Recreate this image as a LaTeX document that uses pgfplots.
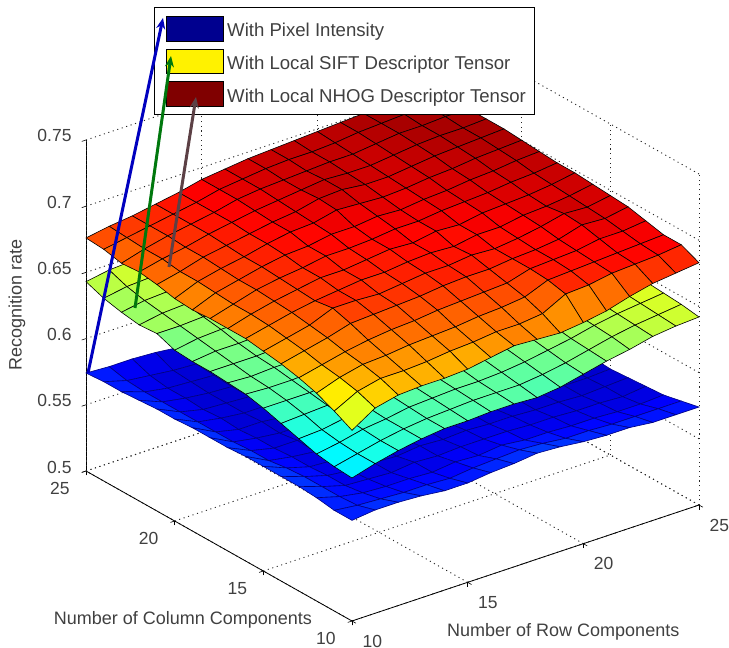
\documentclass[border=0pt]{standalone}
\usepackage{fontspec}
\setmainfont{Liberation Sans}
\usepackage{pgfplots}
\pgfplotsset{compat=1.18}
\usetikzlibrary{arrows.meta}
\begin{document}
\begin{tikzpicture}
\begin{axis}[
  name=ax,
  x={(23.133pt,7.733pt)}, y={(-17.733pt,10pt)}, z={(0pt,1324pt)},
  xmin=10,xmax=25,ymin=10,ymax=25,zmin=0.5,zmax=0.75,
  axis lines*=left,
  clip=false,
  xtick={10,15,20,25}, ytick={10,15,20,25},
  ztick={0.5,0.55,0.6,0.65,0.7,0.75},
  zticklabels={0.5,0.55,0.6,0.65,0.7,0.75},
  grid=major, grid style={black!85,line width=0.9pt,dash pattern=on 1.1pt off 3.6pt},
  tickwidth=4.5pt, tick align=outside,
  tick style={black,line width=0.6pt},
  axis line style={black,line width=0.8pt,-},
  /pgf/number format/assume math mode=true,
  tick label style={font=\fontsize{17.5}{19}\selectfont,text=black!75},
  xticklabel style={xshift=9.5pt,yshift=-6pt},
  yticklabel style={xshift=-13pt,yshift=-4pt},
  zticklabel style={xshift=-7pt,yshift=0pt},
  xlabel={Number of Row Components},
  ylabel={Number of Column Components},
  zlabel={Recognition rate},
  xlabel style={at={(axis cs:15.3,5,0.5)},anchor=center,yshift=-2pt,font=\fontsize{18}{20}\selectfont,text=black!75},
  ylabel style={at={(axis cs:5.6,13.8,0.5)},anchor=center,yshift=-3pt,font=\fontsize{18}{20}\selectfont,text=black!75},
  zlabel style={at={(axis cs:7.02,25,0.643)},anchor=center,rotate=0,font=\fontsize{18}{20}\selectfont,text=black!75},
  colormap/jet, point meta min=0.552, point meta max=0.706,
]
\addplot3[surf, shader=flat corner, draw={rgb,1:red,0;green,0;blue,0.5}, line width=0.6pt, mesh/rows=16, mesh/cols=16] coordinates {
(10,10,0.576)(11,10,0.578)(12,10,0.578)(13,10,0.577)(14,10,0.575)(15,10,0.575)(16,10,0.577)(17,10,0.578)(18,10,0.580)(19,10,0.579)(20,10,0.577)(21,10,0.576)(22,10,0.576)(23,10,0.574)(24,10,0.574)(25,10,0.574)
(10,11,0.576)(11,11,0.574)(12,11,0.573)(13,11,0.572)(14,11,0.572)(15,11,0.571)(16,11,0.573)(17,11,0.574)(18,11,0.575)(19,11,0.574)(20,11,0.572)(21,11,0.572)(22,11,0.571)(23,11,0.571)(24,11,0.571)(25,11,0.571)
(10,12,0.578)(11,12,0.573)(12,12,0.570)(13,12,0.569)(14,12,0.569)(15,12,0.568)(16,12,0.570)(17,12,0.569)(18,12,0.571)(19,12,0.569)(20,12,0.569)(21,12,0.568)(22,12,0.568)(23,12,0.567)(24,12,0.567)(25,12,0.568)
(10,13,0.579)(11,13,0.573)(12,13,0.568)(13,13,0.567)(14,13,0.566)(15,13,0.568)(16,13,0.567)(17,13,0.568)(18,13,0.568)(19,13,0.568)(20,13,0.567)(21,13,0.567)(22,13,0.566)(23,13,0.566)(24,13,0.565)(25,13,0.567)
(10,14,0.579)(11,14,0.573)(12,14,0.568)(13,14,0.566)(14,14,0.566)(15,14,0.565)(16,14,0.567)(17,14,0.566)(18,14,0.567)(19,14,0.566)(20,14,0.566)(21,14,0.565)(22,14,0.565)(23,14,0.564)(24,14,0.565)(25,14,0.566)
(10,15,0.579)(11,15,0.572)(12,15,0.567)(13,15,0.566)(14,15,0.564)(15,15,0.565)(16,15,0.565)(17,15,0.566)(18,15,0.565)(19,15,0.566)(20,15,0.564)(21,15,0.565)(22,15,0.564)(23,15,0.564)(24,15,0.564)(25,15,0.565)
(10,16,0.579)(11,16,0.570)(12,16,0.567)(13,16,0.565)(14,16,0.565)(15,16,0.564)(16,16,0.565)(17,16,0.564)(18,16,0.565)(19,16,0.564)(20,16,0.565)(21,16,0.564)(22,16,0.564)(23,16,0.563)(24,16,0.564)(25,16,0.566)
(10,17,0.578)(11,17,0.570)(12,17,0.566)(13,17,0.566)(14,17,0.564)(15,17,0.564)(16,17,0.563)(17,17,0.564)(18,17,0.563)(19,17,0.564)(20,17,0.563)(21,17,0.564)(22,17,0.563)(23,17,0.564)(24,17,0.564)(25,17,0.566)
(10,18,0.578)(11,18,0.569)(12,18,0.566)(13,18,0.564)(14,18,0.564)(15,18,0.563)(16,18,0.564)(17,18,0.563)(18,18,0.564)(19,18,0.563)(20,18,0.564)(21,18,0.563)(22,18,0.563)(23,18,0.563)(24,18,0.564)(25,18,0.566)
(10,19,0.578)(11,19,0.569)(12,19,0.565)(13,19,0.565)(14,19,0.563)(15,19,0.564)(16,19,0.563)(17,19,0.563)(18,19,0.563)(19,19,0.563)(20,19,0.563)(21,19,0.563)(22,19,0.563)(23,19,0.563)(24,19,0.564)(25,19,0.566)
(10,20,0.577)(11,20,0.569)(12,20,0.566)(13,20,0.564)(14,20,0.564)(15,20,0.563)(16,20,0.563)(17,20,0.563)(18,20,0.563)(19,20,0.563)(20,20,0.563)(21,20,0.563)(22,20,0.563)(23,20,0.563)(24,20,0.564)(25,20,0.566)
(10,21,0.577)(11,21,0.569)(12,21,0.565)(13,21,0.564)(14,21,0.563)(15,21,0.563)(16,21,0.563)(17,21,0.563)(18,21,0.563)(19,21,0.563)(20,21,0.563)(21,21,0.563)(22,21,0.563)(23,21,0.563)(24,21,0.564)(25,21,0.566)
(10,22,0.576)(11,22,0.569)(12,22,0.566)(13,22,0.564)(14,22,0.563)(15,22,0.563)(16,22,0.563)(17,22,0.563)(18,22,0.563)(19,22,0.563)(20,22,0.563)(21,22,0.563)(22,22,0.563)(23,22,0.563)(24,22,0.564)(25,22,0.566)
(10,23,0.575)(11,23,0.569)(12,23,0.566)(13,23,0.565)(14,23,0.564)(15,23,0.563)(16,23,0.563)(17,23,0.563)(18,23,0.563)(19,23,0.563)(20,23,0.563)(21,23,0.563)(22,23,0.563)(23,23,0.563)(24,23,0.564)(25,23,0.566)
(10,24,0.575)(11,24,0.570)(12,24,0.568)(13,24,0.566)(14,24,0.565)(15,24,0.564)(16,24,0.564)(17,24,0.564)(18,24,0.563)(19,24,0.563)(20,24,0.563)(21,24,0.563)(22,24,0.563)(23,24,0.563)(24,24,0.564)(25,24,0.566)
(10,25,0.574)(11,25,0.573)(12,25,0.573)(13,25,0.572)(14,25,0.570)(15,25,0.569)(16,25,0.568)(17,25,0.567)(18,25,0.566)(19,25,0.566)(20,25,0.566)(21,25,0.565)(22,25,0.565)(23,25,0.566)(24,25,0.566)(25,25,0.566)
};
\addplot3[surf, shader=flat corner, draw=black, line width=0.6pt, mesh/rows=16, mesh/cols=16] coordinates {
(10,10,0.608)(11,10,0.613)(12,10,0.617)(13,10,0.620)(14,10,0.622)(15,10,0.622)(16,10,0.623)(17,10,0.623)(18,10,0.622)(19,10,0.624)(20,10,0.628)(21,10,0.632)(22,10,0.635)(23,10,0.639)(24,10,0.641)(25,10,0.642)
(10,11,0.609)(11,11,0.613)(12,11,0.617)(13,11,0.620)(14,11,0.622)(15,11,0.623)(16,11,0.624)(17,11,0.624)(18,11,0.624)(19,11,0.626)(20,11,0.629)(21,11,0.633)(22,11,0.637)(23,11,0.640)(24,11,0.642)(25,11,0.644)
(10,12,0.611)(11,12,0.614)(12,12,0.618)(13,12,0.620)(14,12,0.623)(15,12,0.624)(16,12,0.625)(17,12,0.625)(18,12,0.626)(19,12,0.628)(20,12,0.631)(21,12,0.634)(22,12,0.638)(23,12,0.641)(24,12,0.643)(25,12,0.645)
(10,13,0.615)(11,13,0.616)(12,13,0.619)(13,13,0.621)(14,13,0.624)(15,13,0.625)(16,13,0.626)(17,13,0.627)(18,13,0.628)(19,13,0.630)(20,13,0.633)(21,13,0.636)(22,13,0.639)(23,13,0.642)(24,13,0.644)(25,13,0.646)
(10,14,0.619)(11,14,0.620)(12,14,0.621)(13,14,0.623)(14,14,0.625)(15,14,0.626)(16,14,0.627)(17,14,0.628)(18,14,0.630)(19,14,0.632)(20,14,0.634)(21,14,0.637)(22,14,0.640)(23,14,0.643)(24,14,0.645)(25,14,0.647)
(10,15,0.623)(11,15,0.623)(12,15,0.623)(13,15,0.625)(14,15,0.626)(15,15,0.627)(16,15,0.628)(17,15,0.630)(18,15,0.632)(19,15,0.634)(20,15,0.636)(21,15,0.638)(22,15,0.641)(23,15,0.644)(24,15,0.646)(25,15,0.648)
(10,16,0.626)(11,16,0.625)(12,16,0.625)(13,16,0.626)(14,16,0.627)(15,16,0.628)(16,16,0.630)(17,16,0.632)(18,16,0.634)(19,16,0.636)(20,16,0.638)(21,16,0.640)(22,16,0.642)(23,16,0.645)(24,16,0.647)(25,16,0.648)
(10,17,0.627)(11,17,0.626)(12,17,0.627)(13,17,0.627)(14,17,0.628)(15,17,0.630)(16,17,0.632)(17,17,0.634)(18,17,0.636)(19,17,0.638)(20,17,0.640)(21,17,0.641)(22,17,0.643)(23,17,0.645)(24,17,0.647)(25,17,0.649)
(10,18,0.628)(11,18,0.628)(12,18,0.628)(13,18,0.629)(14,18,0.630)(15,18,0.632)(16,18,0.634)(17,18,0.636)(18,18,0.638)(19,18,0.640)(20,18,0.641)(21,18,0.642)(22,18,0.644)(23,18,0.646)(24,18,0.648)(25,18,0.649)
(10,19,0.628)(11,19,0.630)(12,19,0.630)(13,19,0.631)(14,19,0.632)(15,19,0.634)(16,19,0.636)(17,19,0.638)(18,19,0.640)(19,19,0.641)(20,19,0.642)(21,19,0.643)(22,19,0.645)(23,19,0.647)(24,19,0.648)(25,19,0.650)
(10,20,0.629)(11,20,0.632)(12,20,0.633)(13,20,0.633)(14,20,0.634)(15,20,0.636)(16,20,0.638)(17,20,0.640)(18,20,0.641)(19,20,0.642)(20,20,0.643)(21,20,0.644)(22,20,0.646)(23,20,0.648)(24,20,0.649)(25,20,0.650)
(10,21,0.634)(11,21,0.634)(12,21,0.635)(13,21,0.635)(14,21,0.636)(15,21,0.638)(16,21,0.640)(17,21,0.641)(18,21,0.642)(19,21,0.643)(20,21,0.644)(21,21,0.646)(22,21,0.647)(23,21,0.649)(24,21,0.650)(25,21,0.651)
(10,22,0.633)(11,22,0.636)(12,22,0.637)(13,22,0.637)(14,22,0.638)(15,22,0.640)(16,22,0.641)(17,22,0.642)(18,22,0.643)(19,22,0.644)(20,22,0.646)(21,22,0.647)(22,22,0.648)(23,22,0.650)(24,22,0.651)(25,22,0.652)
(10,23,0.635)(11,23,0.638)(12,23,0.639)(13,23,0.640)(14,23,0.640)(15,23,0.641)(16,23,0.642)(17,23,0.643)(18,23,0.644)(19,23,0.646)(20,23,0.647)(21,23,0.648)(22,23,0.650)(23,23,0.651)(24,23,0.652)(25,23,0.653)
(10,24,0.638)(11,24,0.641)(12,24,0.642)(13,24,0.642)(14,24,0.642)(15,24,0.643)(16,24,0.644)(17,24,0.645)(18,24,0.646)(19,24,0.647)(20,24,0.648)(21,24,0.649)(22,24,0.651)(23,24,0.652)(24,24,0.653)(25,24,0.654)
(10,25,0.643)(11,25,0.646)(12,25,0.647)(13,25,0.647)(14,25,0.647)(15,25,0.647)(16,25,0.648)(17,25,0.648)(18,25,0.649)(19,25,0.649)(20,25,0.650)(21,25,0.651)(22,25,0.652)(23,25,0.653)(24,25,0.654)(25,25,0.655)
};
\addplot3[surf, shader=flat corner, draw=black, line width=0.6pt, mesh/rows=16, mesh/cols=16] coordinates {
(10,10,0.644)(11,10,0.655)(12,10,0.659)(13,10,0.660)(14,10,0.660)(15,10,0.661)(16,10,0.664)(17,10,0.667)(18,10,0.666)(19,10,0.665)(20,10,0.667)(21,10,0.670)(22,10,0.675)(23,10,0.679)(24,10,0.681)(25,10,0.683)
(10,11,0.651)(11,11,0.660)(12,11,0.664)(13,11,0.664)(14,11,0.665)(15,11,0.667)(16,11,0.668)(17,11,0.670)(18,11,0.670)(19,11,0.672)(20,11,0.681)(21,11,0.682)(22,11,0.685)(23,11,0.686)(24,11,0.687)(25,11,0.689)
(10,12,0.657)(11,12,0.663)(12,12,0.667)(13,12,0.668)(14,12,0.670)(15,12,0.671)(16,12,0.672)(17,12,0.674)(18,12,0.675)(19,12,0.677)(20,12,0.684)(21,12,0.685)(22,12,0.686)(23,12,0.687)(24,12,0.688)(25,12,0.689)
(10,13,0.661)(11,13,0.665)(12,13,0.669)(13,13,0.672)(14,13,0.674)(15,13,0.675)(16,13,0.677)(17,13,0.678)(18,13,0.679)(19,13,0.680)(20,13,0.685)(21,13,0.686)(22,13,0.687)(23,13,0.690)(24,13,0.690)(25,13,0.692)
(10,14,0.664)(11,14,0.668)(12,14,0.672)(13,14,0.677)(14,14,0.678)(15,14,0.679)(16,14,0.680)(17,14,0.682)(18,14,0.683)(19,14,0.683)(20,14,0.685)(21,14,0.686)(22,14,0.688)(23,14,0.693)(24,14,0.692)(25,14,0.695)
(10,15,0.666)(11,15,0.670)(12,15,0.674)(13,15,0.681)(14,15,0.681)(15,15,0.680)(16,15,0.682)(17,15,0.684)(18,15,0.684)(19,15,0.686)(20,15,0.685)(21,15,0.687)(22,15,0.690)(23,15,0.694)(24,15,0.693)(25,15,0.696)
(10,16,0.668)(11,16,0.672)(12,16,0.676)(13,16,0.679)(14,16,0.681)(15,16,0.683)(16,16,0.683)(17,16,0.685)(18,16,0.686)(19,16,0.685)(20,16,0.688)(21,16,0.688)(22,16,0.691)(23,16,0.692)(24,16,0.694)(25,16,0.697)
(10,17,0.668)(11,17,0.673)(12,17,0.677)(13,17,0.680)(14,17,0.683)(15,17,0.683)(16,17,0.685)(17,17,0.687)(18,17,0.686)(19,17,0.689)(20,17,0.688)(21,17,0.691)(22,17,0.692)(23,17,0.693)(24,17,0.695)(25,17,0.698)
(10,18,0.668)(11,18,0.673)(12,18,0.678)(13,18,0.681)(14,18,0.683)(15,18,0.686)(16,18,0.686)(17,18,0.687)(18,18,0.689)(19,18,0.689)(20,18,0.691)(21,18,0.692)(22,18,0.693)(23,18,0.695)(24,18,0.696)(25,18,0.698)
(10,19,0.667)(11,19,0.674)(12,19,0.678)(13,19,0.682)(14,19,0.685)(15,19,0.686)(16,19,0.689)(17,19,0.689)(18,19,0.691)(19,19,0.690)(20,19,0.692)(21,19,0.693)(22,19,0.695)(23,19,0.696)(24,19,0.698)(25,19,0.699)
(10,20,0.668)(11,20,0.675)(12,20,0.679)(13,20,0.682)(14,20,0.686)(15,20,0.689)(16,20,0.690)(17,20,0.694)(18,20,0.693)(19,20,0.692)(20,20,0.693)(21,20,0.695)(22,20,0.696)(23,20,0.698)(24,20,0.699)(25,20,0.700)
(10,21,0.671)(11,21,0.675)(12,21,0.680)(13,21,0.683)(14,21,0.686)(15,21,0.689)(16,21,0.691)(17,21,0.695)(18,21,0.696)(19,21,0.694)(20,21,0.694)(21,21,0.696)(22,21,0.698)(23,21,0.699)(24,21,0.700)(25,21,0.701)
(10,22,0.673)(11,22,0.677)(12,22,0.680)(13,22,0.684)(14,22,0.687)(15,22,0.690)(16,22,0.692)(17,22,0.694)(18,22,0.696)(19,22,0.695)(20,22,0.695)(21,22,0.697)(22,22,0.699)(23,22,0.700)(24,22,0.700)(25,22,0.701)
(10,23,0.672)(11,23,0.677)(12,23,0.681)(13,23,0.684)(14,23,0.687)(15,23,0.691)(16,23,0.693)(17,23,0.694)(18,23,0.695)(19,23,0.696)(20,23,0.696)(21,23,0.698)(22,23,0.700)(23,23,0.700)(24,23,0.701)(25,23,0.701)
(10,24,0.675)(11,24,0.678)(12,24,0.681)(13,24,0.684)(14,24,0.687)(15,24,0.691)(16,24,0.693)(17,24,0.695)(18,24,0.696)(19,24,0.696)(20,24,0.697)(21,24,0.699)(22,24,0.700)(23,24,0.701)(24,24,0.701)(25,24,0.701)
(10,25,0.676)(11,25,0.679)(12,25,0.681)(13,25,0.684)(14,25,0.687)(15,25,0.691)(16,25,0.693)(17,25,0.695)(18,25,0.696)(19,25,0.697)(20,25,0.698)(21,25,0.699)(22,25,0.700)(23,25,0.700)(24,25,0.701)(25,25,0.701)
};
\coordinate (f) at (axis cs:10,10,0.5);
\end{axis}
\begin{scope}[shift={(f)},x=1pt,y=-1pt,shift={(-352,-621)}]
\pgfresetboundingbox
\path[use as bounding box] (0,0) rectangle (729,648);
\draw[black,line width=0.8pt,fill=white] (154,7) rectangle (534,114);
\draw[black,line width=0.5pt,fill={rgb,1:red,0;green,0;blue,0.56}] (166,16) rectangle (223,41);
\draw[black,line width=0.5pt,fill=yellow] (166,49) rectangle (223,73);
\draw[black,line width=0.5pt,fill={rgb,1:red,0.5;green,0;blue,0}] (166,81) rectangle (223,106);
\node[anchor=base west,inner sep=0pt,text=black!75,font=\fontsize{18.6}{20}\selectfont] at (227,37) {With Pixel Intensity};
\node[anchor=base west,inner sep=0pt,text=black!75,font=\fontsize{18.6}{20}\selectfont] at (227,70) {With Local SIFT Descriptor Tensor};
\node[anchor=base west,inner sep=0pt,text=black!75,font=\fontsize{18.6}{20}\selectfont] at (227,103) {With Local NHOG Descriptor Tensor};
\draw[-{Stealth[length=11pt,width=9pt]},line width=3pt,color={rgb,1:red,0;green,0;blue,0.75}] (88,373) -- (163,18);
\draw[-{Stealth[length=11pt,width=9pt]},line width=3pt,color={rgb,1:red,0;green,0.47;blue,0.05}] (135,308) -- (171,56);
\draw[-{Stealth[length=11pt,width=9pt]},line width=3pt,color={rgb,1:red,0.36;green,0.25;blue,0.27}] (169,267) -- (196,97);
\end{scope}
\end{tikzpicture}
\end{document}
